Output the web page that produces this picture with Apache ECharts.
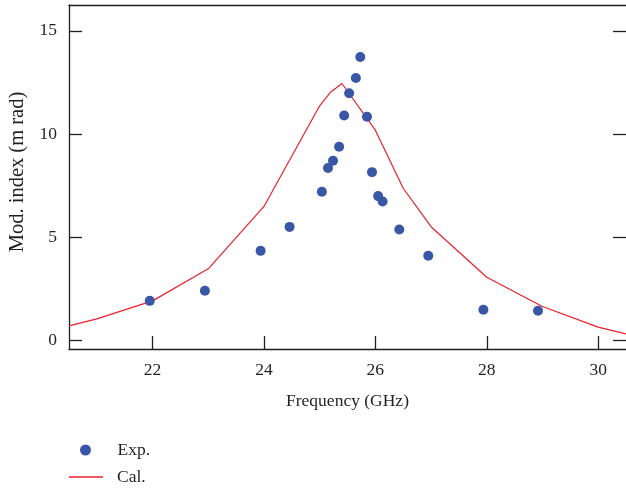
<!DOCTYPE html>
<html>
<head>
<meta charset="utf-8">
<script src="https://cdn.jsdelivr.net/npm/echarts@6/dist/echarts.min.js"></script>
<style>
  html, body { margin: 0; padding: 0; background: #fff; }
  #chart { width: 626px; height: 488px; }
</style>
</head>
<body>
<div id="chart"></div>
<script>
// measured points (Exp.)
const expFreq = [21.95, 22.94, 23.94, 24.46, 25.04, 25.15, 25.24, 25.35, 25.44, 25.53,
                 25.65, 25.73, 25.85, 25.94, 26.05, 26.13, 26.43, 26.95, 27.94, 28.92];
const expIndex = [1.93, 2.42, 4.35, 5.51, 7.21, 8.36, 8.71, 9.39, 10.9, 11.98,
                  12.72, 13.73, 10.84, 8.16, 7.0, 6.74, 5.38, 4.11, 1.5, 1.45];

// calculated curve (Cal.)
const calFreq = [20.5, 21, 22, 23, 24, 25, 25.2, 25.4, 26, 26.5, 27, 28, 29, 30, 30.5];
const calIndex = [0.72, 1.06, 1.93, 3.48, 6.5, 11.37, 12.04, 12.45, 10.19, 7.38, 5.52, 3.07, 1.66, 0.66, 0.33];

// tick labels
const xTicks = [22, 24, 26, 28, 30];
const yTicks = [0, 5, 10, 15];

const font = 'Liberation Serif';
const ink = '#231f20';
const fs = 17.5;

const chart = echarts.init(document.getElementById('chart'));

const axisLine = { show: true, onZero: false, lineStyle: { color: ink, width: 1.3 } };
const tickStyle = { color: ink, width: 1.3 };

const option = {
  animation: false,
  backgroundColor: '#fff',
  grid: { left: 69, right: 0, top: 5, bottom: 139, containLabel: false, outerBoundsMode: 'none' },
  legend: [{
    orient: 'vertical',
    left: 75,
    top: 436,
    itemWidth: 34,
    itemHeight: 11,
    textStyle: { fontFamily: font, fontSize: fs, color: ink, padding: [0, 0, 0, 10] },
    data: [{ name: 'Exp.', icon: 'circle' }]
  }, {
    orient: 'vertical',
    left: 64,
    top: 463,
    itemWidth: 34,
    itemHeight: 1.3,
    textStyle: { fontFamily: font, fontSize: fs, color: ink, padding: [0, 0, 0, 9] },
    data: [{ name: 'Cal.', icon: 'rect' }]
  }],
  xAxis: [{
    type: 'value',
    min: 20.5,
    max: 30.5,
    name: 'Frequency (GHz)',
    nameLocation: 'middle',
    nameGap: 43,
    nameTextStyle: { fontFamily: font, fontSize: fs, color: ink },
    axisLine: axisLine,
    axisTick: { show: true, inside: true, length: 13, customValues: xTicks, lineStyle: tickStyle },
    axisLabel: { customValues: xTicks, fontFamily: font, fontSize: fs, color: ink, margin: 12 },
    splitLine: { show: false }
  }, {
    type: 'value',
    position: 'top',
    min: 20.5,
    max: 30.5,
    axisLine: axisLine,
    axisTick: { show: false },
    axisLabel: { show: false },
    splitLine: { show: false }
  }],
  yAxis: [{
    type: 'value',
    min: -0.4,
    max: 16.25,
    name: 'Mod. index (m rad)',
    nameLocation: 'middle',
    nameGap: 41,
    nameTextStyle: { fontFamily: font, fontSize: 20.5, color: ink, padding: [0, 0, 0, 10] },
    axisLine: axisLine,
    axisTick: { show: true, inside: true, length: 13, customValues: yTicks, lineStyle: tickStyle },
    axisLabel: { customValues: yTicks, fontFamily: font, fontSize: fs, color: ink, margin: 12 },
    splitLine: { show: false }
  }, {
    type: 'value',
    position: 'right',
    min: -0.4,
    max: 16.25,
    axisLine: { show: false, onZero: false },
    axisTick: { show: true, inside: true, length: 13, customValues: yTicks, lineStyle: tickStyle },
    axisLabel: { show: false },
    splitLine: { show: false }
  }],
  series: [{
    name: 'Cal.',
    type: 'line',
    data: calFreq.map((f, i) => [f, calIndex[i]]),
    symbol: 'none',
    lineStyle: { color: '#e8212b', width: 1.2 },
    itemStyle: { color: '#e8212b' },
    z: 2
  }, {
    name: 'Exp.',
    type: 'scatter',
    data: expFreq.map((f, i) => [f, expIndex[i]]),
    symbolSize: 10,
    itemStyle: { color: '#3a56a6', opacity: 1 },
    z: 3
  }]
};

chart.setOption(option);
</script>
</body>
</html>
